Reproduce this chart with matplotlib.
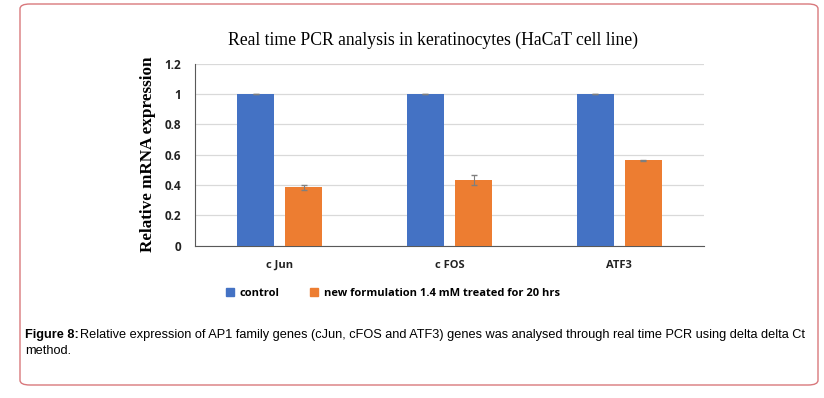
import matplotlib.pyplot as plt
import numpy as np
from matplotlib.patches import FancyBboxPatch, Patch

# values
genes = ['c Jun', 'c FOS', 'ATF3']
control = [1.0, 1.0, 1.0]
control_err = [0.0, 0.0, 0.0]
treated = [0.385, 0.433, 0.563]
treated_err = [0.018, 0.031, 0.005]
series_names = ['control', 'new formulation 1.4 mM treated for 20 hrs']
yticks = [0, 0.2, 0.4, 0.6, 0.8, 1, 1.2]

blue = '#4472C4'
orange = '#ED7D31'

fig = plt.figure(figsize=(8.24, 3.98), dpi=100)

# rounded red frame around the figure panel
frame = FancyBboxPatch((20 / 824, 1 - 385 / 398), 798 / 824, 381 / 398,
                       boxstyle='round,pad=0,rounding_size=0.012',
                       transform=fig.transFigure, facecolor='none',
                       edgecolor='#d9787c', linewidth=1.0, zorder=-1)
fig.patches.append(frame)

ax = fig.add_axes([195 / 824, 1 - 245.7 / 398, 509 / 824, 182 / 398])
ax.set_facecolor('none')

x = np.arange(len(genes))
w = 0.218
off = 0.1415
ax.bar(x - off, control, w, color=blue, yerr=control_err,
       error_kw=dict(ecolor='#7f7f7f', capsize=2.5, elinewidth=0.8), zorder=3)
ax.bar(x + off, treated, w, color=orange, yerr=treated_err,
       error_kw=dict(ecolor='#7f7f7f', capsize=2.5, elinewidth=0.8), zorder=3)

ax.set_xlim(-0.5, 2.5)
ax.set_ylim(0, 1.2)
ax.set_yticks(yticks)
ax.set_yticklabels([str(t) for t in yticks], fontsize=8.5, fontweight='bold',
                   family='Open Sans')
ax.set_xticks(x)
ax.set_xticklabels(genes, fontsize=8, fontweight='bold', family='Open Sans')
ax.tick_params(axis='both', length=0, colors='#222222')
ax.tick_params(axis='y', pad=10)
ax.tick_params(axis='x', pad=10)
ax.grid(axis='y', color='#d9d9d9', linewidth=0.9, zorder=0)
for s in ['top', 'right']:
    ax.spines[s].set_visible(False)
ax.spines['left'].set_color('#595959')
ax.spines['bottom'].set_color('#595959')

ax.set_ylabel('Relative mRNA expression', family='Liberation Serif',
              fontweight='bold', fontsize=12.3, labelpad=6)
fig.text(433 / 824, 1 - 40 / 398,
         'Real time PCR analysis in keratinocytes (HaCaT cell line)',
         family='Liberation Serif', fontsize=12.7, ha='center', va='center')

handles = [Patch(color=blue), Patch(color=orange)]
fig.legend(handles, series_names, loc='center left',
           bbox_to_anchor=(216 / 824, 1 - 293 / 398), ncol=2, frameon=False,
           prop=dict(family='Open Sans', weight='bold', size=8),
           handlelength=0.7, handleheight=0.7, handletextpad=0.5,
           columnspacing=2.8)

fig.text(25 / 824, 1 - 335 / 398, 'Figure 8:', fontweight='bold', fontsize=9.2,
         family='Liberation Sans', va='center')
fig.text(80 / 824, 1 - 335 / 398,
         'Relative expression of AP1 family genes (cJun, cFOS and ATF3) genes was '
         'analysed through real time PCR using delta delta Ct',
         fontsize=9.2, family='Liberation Sans', va='center')
fig.text(25 / 824, 1 - 351 / 398, 'method.', fontsize=9.2,
         family='Liberation Sans', va='center')

fig.savefig('out.png', dpi=100)
